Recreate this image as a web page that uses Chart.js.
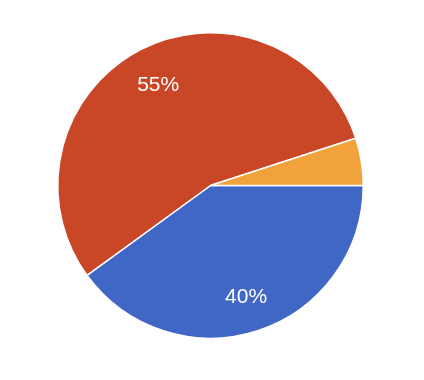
<!DOCTYPE html>
<html>
<head>
<meta charset="utf-8">
<script src="https://cdn.jsdelivr.net/npm/chart.js@4/dist/chart.umd.min.js"></script>
<style>
  html, body { margin: 0; padding: 0; background: #ffffff; }
  #wrap { width: 424px; height: 380px; }
</style>
</head>
<body>
<div id="wrap"><canvas id="chart" width="424" height="380"></canvas></div>
<script>
// slice data (clockwise from 3 o'clock)
const categories = ["Blue", "Red", "Orange"];
const values = [40, 55, 5];
const sliceColors = ["#4066C6", "#C94627", "#F1A23B"];

// draws the percentage text inside each slice, like the reference
const sliceLabels = {
    id: "sliceLabels",
    afterDatasetsDraw: function (chart) {
        const ctx = chart.ctx;
        const meta = chart.getDatasetMeta(0);
        const total = values.reduce(function (a, b) { return a + b; }, 0);
        ctx.save();
        ctx.fillStyle = "#ffffff";
        ctx.font = "21px 'Liberation Sans', Arial, sans-serif";
        ctx.textAlign = "center";
        ctx.textBaseline = "alphabetic";
        meta.data.forEach(function (arc, i) {
            const pct = Math.round(values[i] / total * 100);
            if (pct < 10) return; // small slices have no label
            const mid = (arc.startAngle + arc.endAngle) / 2;
            const r = arc.outerRadius * 0.755;
            ctx.fillText(pct + "%", arc.x + Math.cos(mid) * r, arc.y + Math.sin(mid) * r + 8);
        });
        ctx.restore();
    }
};

new Chart(document.getElementById("chart").getContext("2d"), {
    type: "pie",
    data: {
        labels: categories,
        datasets: [{
            data: values,
            backgroundColor: sliceColors,
            borderColor: "#ffffff",
            borderWidth: 1.5
        }]
    },
    options: {
        responsive: false,
        animation: false,
        rotation: 90,
        layout: { padding: { left: 57, right: 60, top: 32, bottom: 41 } },
        plugins: {
            legend: { display: false },
            tooltip: { enabled: false }
        }
    },
    plugins: [sliceLabels]
});
</script>
</body>
</html>
